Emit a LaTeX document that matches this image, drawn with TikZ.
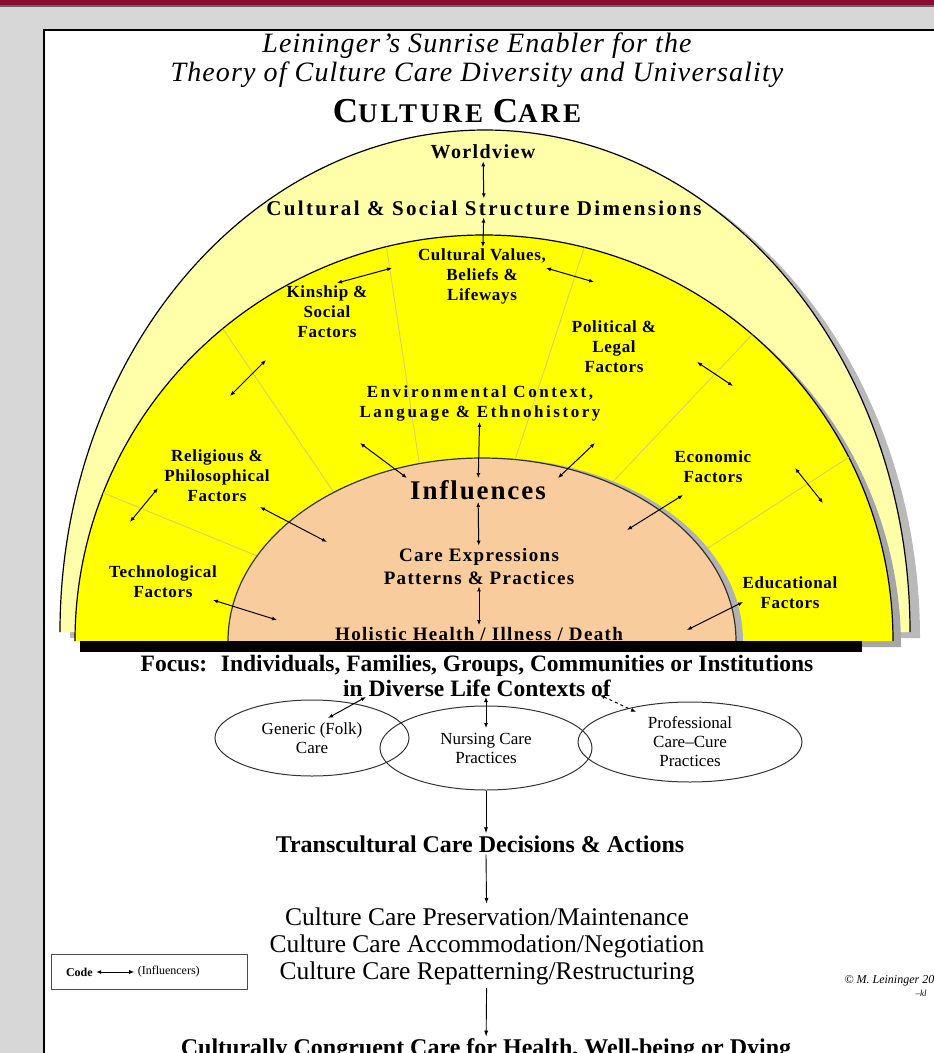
\documentclass[tikz,border=0pt]{standalone}
\usepackage{fontspec}
\setmainfont{Liberation Serif}
\newfontfamily\trackfont[LetterSpace=4]{Liberation Serif}
\newfontfamily\midtrack[LetterSpace=7]{Liberation Serif}
\newfontfamily\widetrack[LetterSpace=11]{Liberation Serif}
\newfontfamily\loosefont[LetterSpace=15]{Liberation Serif}
\usetikzlibrary{arrows.meta,shapes.geometric,positioning}

\definecolor{frame}{HTML}{D7D7D7}
\definecolor{bandred}{HTML}{8A0C2E}
\definecolor{sunpale}{HTML}{FFFFAA}
\definecolor{sunyellow}{HTML}{FFFF00}
\definecolor{sunpeach}{HTML}{F9CC9D}
\definecolor{rayline}{HTML}{D4CB70}

\tikzset{
  factor/.style={font=\trackfont\bfseries\fontsize{17}{20}\selectfont, align=center, inner sep=1pt},
  core/.style={font=\midtrack\bfseries\fontsize{19}{23}\selectfont, align=center, inner sep=2pt},
  focus/.style={font=\bfseries\fontsize{23.5}{23.5}\selectfont, inner sep=2pt},
  infl/.style={{Latex[length=5pt,width=4pt]}-{Latex[length=5pt,width=4pt]}, line width=1pt},
  flow/.style={-{Latex[length=6pt,width=4pt]}, line width=0.9pt},
  divider/.style={draw=rayline, line width=0.8pt},
  lifeoval/.style={ellipse, draw=black!80, line width=1pt, align=center, inner sep=0pt,
    font=\fontsize{17}{19}\selectfont},
}

\begin{document}
\begin{tikzpicture}[x=1pt, y=-1pt]
    \useasboundingbox (0,0) rectangle (934,1053);
    \clip (0,0) rectangle (934,1053);

    % Slide frame and white sheet
    \fill[frame] (0,0) rectangle (934,1053);
    \fill[bandred] (0,0) rectangle (934,4.5);
    \fill[black!60] (0,4.5) rectangle (934,6.5);
    \draw[line width=2.5pt, fill=white] (44,30) rectangle (960,1080);

    % Title
    \node[font=\trackfont\itshape\fontsize{28}{29}\selectfont, align=center] (title) at (477,60)
        {Leininger’s Sunrise Enabler for the\\Theory of Culture Care Diversity and Universality};
    \node[font=\widetrack\bfseries] (culturecare) at (457,111)
        {\fontsize{35}{35}\selectfont C\fontsize{27}{27}\selectfont ULTURE \fontsize{35}{35}\selectfont C\fontsize{27}{27}\selectfont ARE};

    % Outer band (worldview)
    \fill[gray!55] (70,638) arc[start angle=180, end angle=360, x radius=425, y radius=502] -- cycle;
    \fill[sunpale] (60,632) arc[start angle=180, end angle=360, x radius=425, y radius=502] -- cycle;
    \draw[line width=1.2pt] (60,632) arc[start angle=180, end angle=360, x radius=425, y radius=502];

    % Factor band
    \fill[gray!70] (83,647) arc[start angle=180, end angle=360, x radius=409, y radius=406] -- cycle;
    \fill[sunyellow] (75,641) arc[start angle=180, end angle=360, x radius=409, y radius=406] -- cycle;
    \draw[line width=1.2pt] (75,641) arc[start angle=180, end angle=360, x radius=409, y radius=406];

    % Rays between the factors
    \foreach \ao/\ai in {158.6/152.3, 129.7/125.7, 103.8/104.3, 75.8/82.5, 49/59.4, 26.9/29.4}
        \draw[divider] ([shift={(-\ao:409 and 406)}]484,641) -- ([shift={(-\ai:254 and 183)}]482,641);

    % Inner half disc
    \fill[gray!60] (235,641) arc[start angle=180, end angle=360, x radius=254, y radius=183] -- cycle;
    \filldraw[fill=sunpeach, draw=black!80, line width=1.2pt]
        (228,641) arc[start angle=180, end angle=360, x radius=254, y radius=183];

    % Labels in the sunrise
    \node[core, font=\midtrack\bfseries\fontsize{20}{23}\selectfont] (worldview) at (483,152) {Worldview};
    \node[core, font=\widetrack\bfseries\fontsize{21}{23}\selectfont] (dims) at (484,208)
        {Cultural \& Social Structure Dimensions};
    \node[factor] (values) at (482,276) {Cultural Values,\\Beliefs \&\\Lifeways};
    \node[factor] (kinship) at (327,312) {Kinship \&\\Social\\Factors};
    \node[factor] (political) at (614,347) {Political \&\\Legal\\Factors};
    \node[factor, font=\loosefont\bfseries\fontsize{17}{20}\selectfont] (environment) at (480,403)
        {Environmental Context,\\Language \& Ethnohistory};
    \node[core, font=\midtrack\bfseries\fontsize{27}{27}\selectfont] (influences) at (478,490) {Influences};
    \node[core] (careexp) at (479,566) {Care Expressions\\Patterns \& Practices};
    \node[core] (holistic) at (479,634) {Holistic Health / Illness / Death};
    \node[factor] (religious) at (217,476) {Religious \&\\Philosophical\\Factors};
    \node[factor] (techno) at (163,582) {Technological\\Factors};
    \node[factor] (economic) at (713,467) {Economic\\Factors};
    \node[factor] (educational) at (790,593) {Educational\\Factors};

    % Ground shadow
    \fill[black] (80,641) rectangle (862,652);

    % Influences down the middle
    \draw[infl] (worldview) -- (dims);
    \draw[infl] (dims) -- (values);
    \draw[infl] (environment) -- (influences);
    \draw[infl] (influences) -- (careexp);
    \draw[infl] (careexp) -- (holistic);

    % Influences across the factor band
    \coordinate (kinA) at (337,283);  \coordinate (kinB) at (392,268);
    \coordinate (polA) at (546,268);  \coordinate (polB) at (594,282);
    \coordinate (kinC) at (230,396);  \coordinate (kinD) at (266,360);
    \coordinate (polC) at (697,362);  \coordinate (polD) at (733,386);
    \coordinate (envA) at (360,443);  \coordinate (envB) at (407,478);
    \coordinate (envC) at (558,478);  \coordinate (envD) at (595,443);
    \coordinate (relA) at (130,522);  \coordinate (relB) at (158,488);
    \coordinate (relC) at (260,507);  \coordinate (relD) at (327,542);
    \coordinate (tecA) at (213,600);  \coordinate (tecB) at (277,620);
    \coordinate (ecoA) at (627,530);  \coordinate (ecoB) at (683,495);
    \coordinate (ecoC) at (795,468);  \coordinate (ecoD) at (823,503);
    \coordinate (eduA) at (687,630);  \coordinate (eduB) at (743,602);
    \foreach \a/\b in {kinA/kinB, polA/polB, kinC/kinD, polC/polD, envA/envB, envC/envD,
                       relA/relB, relC/relD, tecA/tecB, ecoA/ecoB, ecoC/ecoD, eduA/eduB}
        \draw[infl] (\a) -- (\b);

    % Focus and life contexts
    \node[focus] (focus) at (477,666) {Focus:~ Individuals, Families, Groups, Communities or Institutions};
    \node[focus] (contexts) at (477,688) {in Diverse Life Contexts of};

    \node[lifeoval, minimum width=194, minimum height=76] (generic) at (312,738) {Generic (Folk)\\Care};
    \node[lifeoval, minimum width=212, minimum height=84] (nursing) at (486,748) {Nursing Care\\Practices};
    \node[lifeoval, minimum width=224, minimum height=80] (professional) at (690,742)
        {Professional\\Care--Cure\\Practices};

    \coordinate (toFolkA) at (366,697);  \coordinate (toFolkB) at (328,718);
    \coordinate (toNurseA) at (486,697); \coordinate (toNurseB) at (486,728);
    \coordinate (toProfA) at (600,695);  \coordinate (toProfB) at (636,712);
    \draw[infl] (toFolkA) -- (toFolkB);
    \draw[infl] (toNurseA) -- (toNurseB);
    \draw[infl, dashed] (toProfA) -- (toProfB);

    % Decisions and outcomes
    \node[focus, font=\bfseries\fontsize{24}{24}\selectfont] (decisions) at (480,844)
        {Transcultural Care Decisions \& Actions};
    \node[font=\fontsize{25.5}{27}\selectfont, align=center] (strategies) at (487,946)
        {Culture Care Preservation/Maintenance\\Culture Care Accommodation/Negotiation\\Culture Care Repatterning/Restructuring};
    \node[focus, font=\bfseries\fontsize{24}{24}\selectfont] (congruent) at (486,1050)
        {Culturally Congruent Care for Health, Well-being or Dying};

    \draw[flow] (nursing) -- (decisions.north -| nursing);
    \draw[flow] (decisions.south -| nursing) -- (strategies);
    \draw[flow] (strategies) -- (congruent);

    % Legend and credit
    \node[draw=black!70, line width=1pt, minimum width=196, minimum height=35, inner sep=0pt] (legend) at (149,972) {};
    \node[font=\bfseries\fontsize{12}{12}\selectfont, right=12pt of legend.west] (codelbl) {Code};
    \node[font=\fontsize{12}{12}\selectfont, right=38pt of codelbl] (infllbl) {(Influencers)};
    \draw[infl, line width=0.8pt] (codelbl) -- (infllbl);

    \node[font=\itshape\fontsize{12}{12}\selectfont, anchor=west] (credit) at (841,981) {© M. Leininger 2004};
    \node[font=\itshape\fontsize{9}{9}\selectfont, anchor=west] (initials) at (912,993) {--kl};
\end{tikzpicture}
\end{document}
